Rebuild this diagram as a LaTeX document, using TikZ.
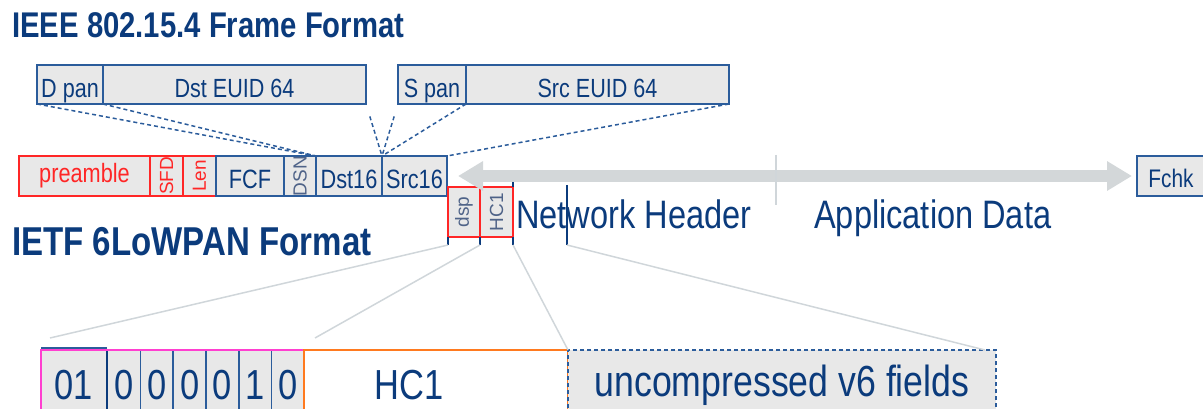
\documentclass[tikz,border=0pt]{standalone}
\usepackage{fontspec}
\setmainfont{Liberation Sans}[FakeStretch=0.82]
\newfontfamily\rf{Liberation Sans}
\usetikzlibrary{arrows.meta}
\definecolor{boxblue}{HTML}{2B5C9B}
\definecolor{txtblue}{HTML}{0B3B7C}
\definecolor{boxgray}{HTML}{E8E8E8}
\definecolor{redc}{HTML}{FF2626}
\definecolor{graylc}{HTML}{D0D6DA}
\definecolor{arrowgray}{HTML}{D3D7D9}
\definecolor{magc}{HTML}{FF3FD0}
\definecolor{orc}{HTML}{FF7A1F}
\definecolor{dsntxt}{HTML}{4F6388}
\tikzset{
  fbox/.style={draw=boxblue, line width=1.5pt, fill=boxgray, inner sep=0pt, outer sep=0pt, anchor=north west, text=txtblue},
  topbox/.style={fbox, minimum height=39pt, text height=27pt, text depth=0pt, font=\fontsize{26.3}{26}\selectfont},
  mainbox/.style={fbox, minimum height=40pt, font=\fontsize{26.5}{26}\selectfont},
  lowtext/.style={text height=#1, text depth=0pt},
  redbox/.style={mainbox, draw=redc, text=redc},
  rotfont/.style={font=\rf\fontsize{19}{19}\selectfont},
  rotbox/.style={fbox, draw=redc, minimum height=50pt, text=dsntxt, rotfont},
  bitbox/.style={fbox, minimum height=70pt, font=\fontsize{42}{42}\selectfont},
  dashline/.style={draw=boxblue, line width=1.5pt, dash pattern=on 4pt off 3pt},
  tickline/.style={draw=txtblue, line width=1.5pt},
  grayline/.style={draw=graylc, line width=1.5pt},
  bigarrow/.style={draw=arrowgray, line width=12pt, {Triangle[width=28pt,length=25pt]}-{Triangle[width=28pt,length=25pt]}},
  title/.style={anchor=base west, inner sep=0pt, text=txtblue, font=\bfseries\fontsize{#1}{#1}\selectfont},
  bigtxt/.style={anchor=base west, inner sep=0pt, text=txtblue, font=\fontsize{39.7}{40}\selectfont},
}
\begin{document}
\begin{tikzpicture}[x=1pt,y=-1pt]
\useasboundingbox (0,0) rectangle (1203,409);
\clip (0,0) rectangle (1203,409);

% titles
\node[title=35.7] (t1) at (12,38) {IEEE 802.15.4 Frame Format};
\node[title=40.3] (t2) at (12,255) {IETF 6LoWPAN Format};

% top row
\node[topbox, minimum width=66pt] (dpan) at (37,65) {D pan};
\node[topbox, minimum width=263pt] (dsteuid) at (103,65) {Dst EUID 64};
\node[topbox, minimum width=68pt] (span) at (398,65) {S pan};
\node[topbox, minimum width=263pt] (srceuid) at (466,65) {Src EUID 64};

% main row
\node[redbox, minimum width=131pt] (pre) at (19,156) {preamble};
\node[redbox, minimum width=33pt, rotfont] (sfd) at (150,156) {\rotatebox{90}{SFD}};
\node[redbox, minimum width=33pt, rotfont] (len) at (183,156) {\rotatebox{90}{Len}};
\node[mainbox, lowtext=26pt, minimum width=68pt] (fcf) at (216,156) {FCF};
\node[mainbox, minimum width=32pt, text=dsntxt, rotfont] (dsn) at (284,156) {\rotatebox{90}{DSN}};
\node[mainbox, lowtext=26pt, minimum width=66pt] (dst16) at (316,156) {Dst16};
\node[mainbox, lowtext=26pt, minimum width=65pt] (src16) at (382,156) {Src16};
\node[mainbox, lowtext=24pt, minimum width=68pt, font=\fontsize{25.4}{25}\selectfont] (fchk) at (1137,156) {Fchk};

% dsp / HC1
\node[rotbox, minimum width=32pt] (dsp) at (448,187) {\rotatebox{90}{dsp}};
\node[rotbox, minimum width=33pt] (hcs) at (480,187) {\rotatebox{90}{HC1}};

% dashed expansion lines
\draw[dashline] (dpan.south west) -- (dst16.north west);
\draw[dashline] (dpan.south east) -- (dst16.north west);
\draw[dashline, shorten <=13pt] (dsteuid.south east) -- (dst16.north east);
\draw[dashline, shorten <=13pt] (span.south west) -- (src16.north west);
\draw[dashline] (span.south east) -- (src16.north west);
\draw[dashline] (srceuid.south east) -- (src16.north east);

% big arrow
\draw[bigarrow] ([xshift=11pt]src16.east) -- ([xshift=-5pt]fchk.west);
\coordinate (sepT) at (776,155);
\coordinate (sepB) at (776,205);
\draw[grayline] (sepT) -- (sepB);

% header texts
\node[bigtxt] (nh) at (516,229) {Network Header};
\node[bigtxt] (ad) at (814,229) {Application Data};

% ticks
\draw[tickline] (dsp.south west) -- ++(0,8) coordinate (k1);
\draw[tickline] (hcs.south west) -- ++(0,8) coordinate (k2);
\draw[tickline] (hcs.south east) -- ++(0,8) coordinate (k3);
\draw[tickline] (hcs.north east) -- ++(0,-5);
\coordinate (k4t) at (567,185);
\draw[tickline] (k4t) -- ++(0,60) coordinate (k4);

% bottom row
\node[bitbox, minimum width=66pt] (b01) at (41,350) {01};
\node[bitbox, minimum width=32.8pt] (b1) at (107.6,350) {0};
\node[bitbox, minimum width=32.8pt] (b2) at (140.4,350) {0};
\node[bitbox, minimum width=32.8pt] (b3) at (173.2,350) {0};
\node[bitbox, minimum width=32.8pt] (b4) at (206.0,350) {0};
\node[bitbox, minimum width=32.8pt] (b5) at (238.8,350) {1};
\node[bitbox, minimum width=32.8pt] (b6) at (271.6,350) {0};
\draw[draw=txtblue, line width=2.2pt] (b01.north east) -- (b01.south east);
\draw[draw=magc, line width=2pt] (b01.south west) -- (b01.north west) -- (b6.north east);
\draw[draw=boxblue, line width=1.5pt] ([yshift=2pt]b01.north west) -- ([yshift=2pt]b01.north east);
\node[fbox, fill=white, draw=orc, line width=2pt, minimum width=263.6pt, minimum height=70pt] (hc1b) at (304.4,350) {};
\node[anchor=center, inner sep=0pt, text=txtblue, font=\fontsize{42}{42}\selectfont] (hc1t) at ([xshift=-27pt]hc1b.center) {HC1};
\node[bitbox, dash pattern=on 4pt off 3pt, minimum width=428pt, font=\fontsize{43.5}{44}\selectfont] (unc) at (568,350) {uncompressed v6 fields};

% gray expansion lines
\coordinate (g1) at (50,338);
\coordinate (g2) at (315,338);
\draw[grayline] (k1) -- (g1);
\draw[grayline] (k2) -- (g2);
\draw[grayline] (k3) -- (unc.north west);
\draw[grayline] (k4) -- ([xshift=-11pt]unc.north east);
\end{tikzpicture}
\end{document}
